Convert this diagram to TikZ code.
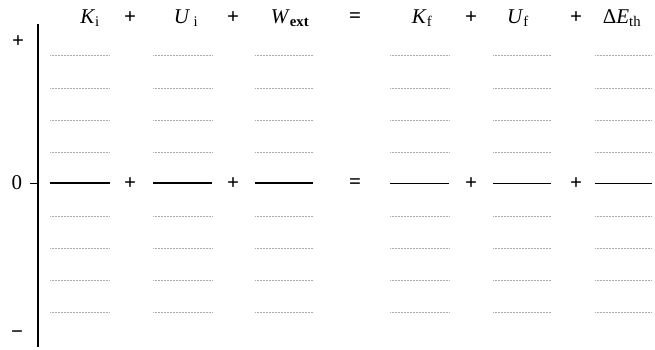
\documentclass[tikz,border=0pt]{standalone}
\usepackage{fontspec}
\setmainfont{Liberation Serif}
\begin{document}
\begin{tikzpicture}[x=1pt,y=-1pt,
  hdr/.style={font=\fontsize{21}{24}\selectfont, inner sep=0pt, anchor=center},
  op/.style={font=\fontsize{21}{24}\selectfont\bfseries, inner sep=0pt, anchor=center},
  grid/.style={gray!65, densely dotted, line width=0.5pt},
  zero/.style={black, line width=1.1pt},
  axis/.style={black, line width=1.3pt}]
\useasboundingbox (0,0) rectangle (655,349);
% axis
\coordinate (atop) at (38,24);
\coordinate (abot) at (38,347);
\draw[axis] (atop) -- (abot);
\coordinate (tick) at (30,183);
\coordinate (tickend) at (38,183);
\draw[black, line width=0.9pt] (tick) -- (tickend);
\node[op] (lplus) at (18,42) {+};
\node[hdr] (lzero) at (17,183) {0};
\node[op] (lminus) at (17,335) {\textminus};
% headers
\node[hdr] (hKi) at (90,18) {\textit{K}\textsubscript{i}};
\node[op] (p1) at (130,18) {+};
\node[hdr] (hUi) at (186,18) {\textit{U}\,\textsubscript{i}};
\node[op] (p2) at (233,18) {+};
\node[hdr] (hW) at (290,18) {\textit{W}\textsubscript{\textbf{ext}}};
\node[op] (eq1) at (355,18) {=};
\node[hdr] (hKf) at (422,18) {\textit{K}\textsubscript{f}};
\node[op] (p3) at (471,18) {+};
\node[hdr] (hUf) at (518,18) {\textit{U}\textsubscript{f}};
\node[op] (p4) at (576,18) {+};
\node[hdr] (hE) at (622,18) {Δ\textit{E}\textsubscript{th}};
% zero row operators
\node[op] (z1) at (130,184) {+};
\node[op] (z2) at (233,184) {+};
\node[op] (z3) at (355,184) {=};
\node[op] (z4) at (471,184) {+};
\node[op] (z5) at (576,184) {+};
% grid lines
\foreach \a/\b in {50/110,153/212,255/313,390/449,493/551,595/652}{
  \foreach \y in {55,88,120,152,216,248,280,312}{
    \draw[grid] (\a,\y) -- (\b,\y);
  }
}
\foreach \a/\b in {50/110,153/212,255/313}{
  \draw[zero] (\a,183) -- (\b,183);
}
\foreach \a/\b in {390/449,493/551,595/652}{
  \draw[black, line width=0.8pt] (\a,183) -- (\b,183);
}
\end{tikzpicture}
\end{document}
